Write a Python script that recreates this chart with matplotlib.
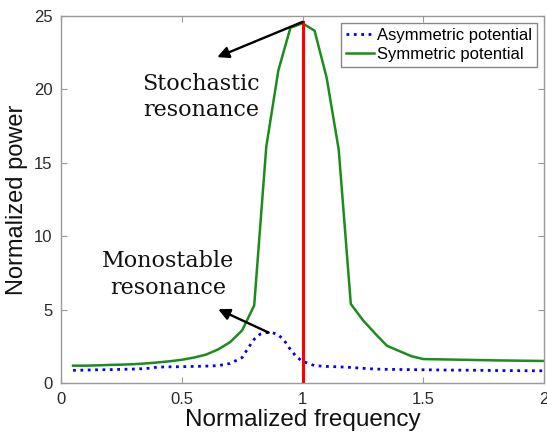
import matplotlib
matplotlib.use("Agg")
import matplotlib.pyplot as plt

# Symmetric potential (green)
sym_x = [0.05, 0.10, 0.15, 0.20, 0.25, 0.30, 0.35, 0.40, 0.45, 0.50, 0.55, 0.60, 0.65, 0.70,
         0.75, 0.80, 0.85, 0.90, 0.95, 1.00, 1.05, 1.10, 1.15, 1.20, 1.25, 1.30, 1.35, 1.40,
         1.45, 1.50, 1.60, 1.70, 1.80, 1.90, 2.00]
sym_y = [1.20, 1.20, 1.22, 1.25, 1.27, 1.30, 1.35, 1.42, 1.50, 1.60, 1.75, 1.95, 2.30, 2.80,
         3.60, 5.30, 16.1, 21.3, 24.2, 24.5, 24.0, 20.8, 15.9, 5.40, 4.30, 3.40, 2.55, 2.20,
         1.85, 1.65, 1.62, 1.59, 1.56, 1.54, 1.52]

# Asymmetric potential (blue dotted)
asym_x = [0.05, 0.10, 0.15, 0.20, 0.25, 0.30, 0.35, 0.40, 0.45, 0.50, 0.55, 0.60, 0.65, 0.70,
          0.75, 0.775, 0.80, 0.825, 0.85, 0.875, 0.90, 0.925, 0.95, 0.975, 1.00, 1.05, 1.10,
          1.15, 1.20, 1.25, 1.30, 1.35, 1.40, 1.50, 1.60, 1.70, 1.80, 1.90, 2.00]
asym_y = [0.88, 0.90, 0.92, 0.93, 0.95, 0.97, 1.00, 1.10, 1.12, 1.13, 1.15, 1.17, 1.20, 1.35,
          1.75, 2.40, 3.00, 3.35, 3.45, 3.45, 3.30, 2.90, 2.30, 1.80, 1.50, 1.20, 1.15,
          1.12, 1.08, 1.02, 0.97, 0.95, 0.94, 0.92, 0.90, 0.89, 0.87, 0.86, 0.85]

resonance_freq = 1.0
resonance_top = 24.6

xticks = [0, 0.5, 1, 1.5, 2]
xticklabels = ["0", "0.5", "1", "1.5", "2"]
yticks = [0, 5, 10, 15, 20, 25]

fig = plt.figure(figsize=(5.47, 4.32), dpi=100)
ax = fig.add_axes([61/547, 1 - 383.3/432, (544-61)/547, (383.3-16)/432])

ax.plot(asym_x, asym_y, linestyle=':', color='#0000ff', lw=2.0, label='Asymmetric potential')
ax.plot(sym_x, sym_y, linestyle='-', color='#1c8c1c', lw=1.8, label='Symmetric potential')
ax.plot([resonance_freq, resonance_freq], [0, resonance_top], color='#ff0000', lw=2.2, zorder=3)

ax.set_xlim(0, 2)
ax.set_ylim(0, 25)
ax.set_xticks(xticks)
ax.set_xticklabels(xticklabels)
ax.set_yticks(yticks)

for lab in ax.get_xticklabels() + ax.get_yticklabels():
    lab.set_fontfamily('Liberation Sans')
    lab.set_fontsize(12)
    lab.set_color('#2a2a2a')

ax.tick_params(direction='in', length=4, width=0.8, color='#999999',
               top=True, right=True, pad=6)
for s in ax.spines.values():
    s.set_color('#999999')
    s.set_linewidth(1.0)

ax.set_xlabel('Normalized frequency', fontfamily='Liberation Sans', fontsize=17.5,
              color='#111111', labelpad=2)
ax.set_ylabel('Normalized power', fontfamily='Liberation Sans', fontsize=17,
              color='#111111', labelpad=4)

leg = ax.legend(loc='upper right', prop={'family': 'Liberation Sans', 'size': 12},
                frameon=True, fancybox=False, edgecolor='#888888', framealpha=1,
                handlelength=1.7, handletextpad=0.2, labelspacing=0.25,
                borderpad=0.3, borderaxespad=0.4)
leg.get_frame().set_linewidth(1.0)

# Annotations
ax.annotate('', xy=(0.647, 22.2), xytext=(1.0, 24.6),
            arrowprops=dict(arrowstyle='-|>', color='black', lw=1.7, mutation_scale=17,
                            shrinkA=0, shrinkB=0))
ax.text(0.581, 19.47, 'Stochastic\nresonance', ha='center', va='center',
        fontfamily='DejaVu Serif', fontsize=16, linespacing=1.25, color='#111111')

ax.annotate('', xy=(0.651, 5.04), xytext=(0.86, 3.45),
            arrowprops=dict(arrowstyle='-|>', color='black', lw=1.7, mutation_scale=17,
                            shrinkA=0, shrinkB=0))
ax.text(0.443, 7.4, 'Monostable\nresonance', ha='center', va='center',
        fontfamily='DejaVu Serif', fontsize=16, linespacing=1.25, color='#111111')

fig.savefig('out.png', dpi=100)
